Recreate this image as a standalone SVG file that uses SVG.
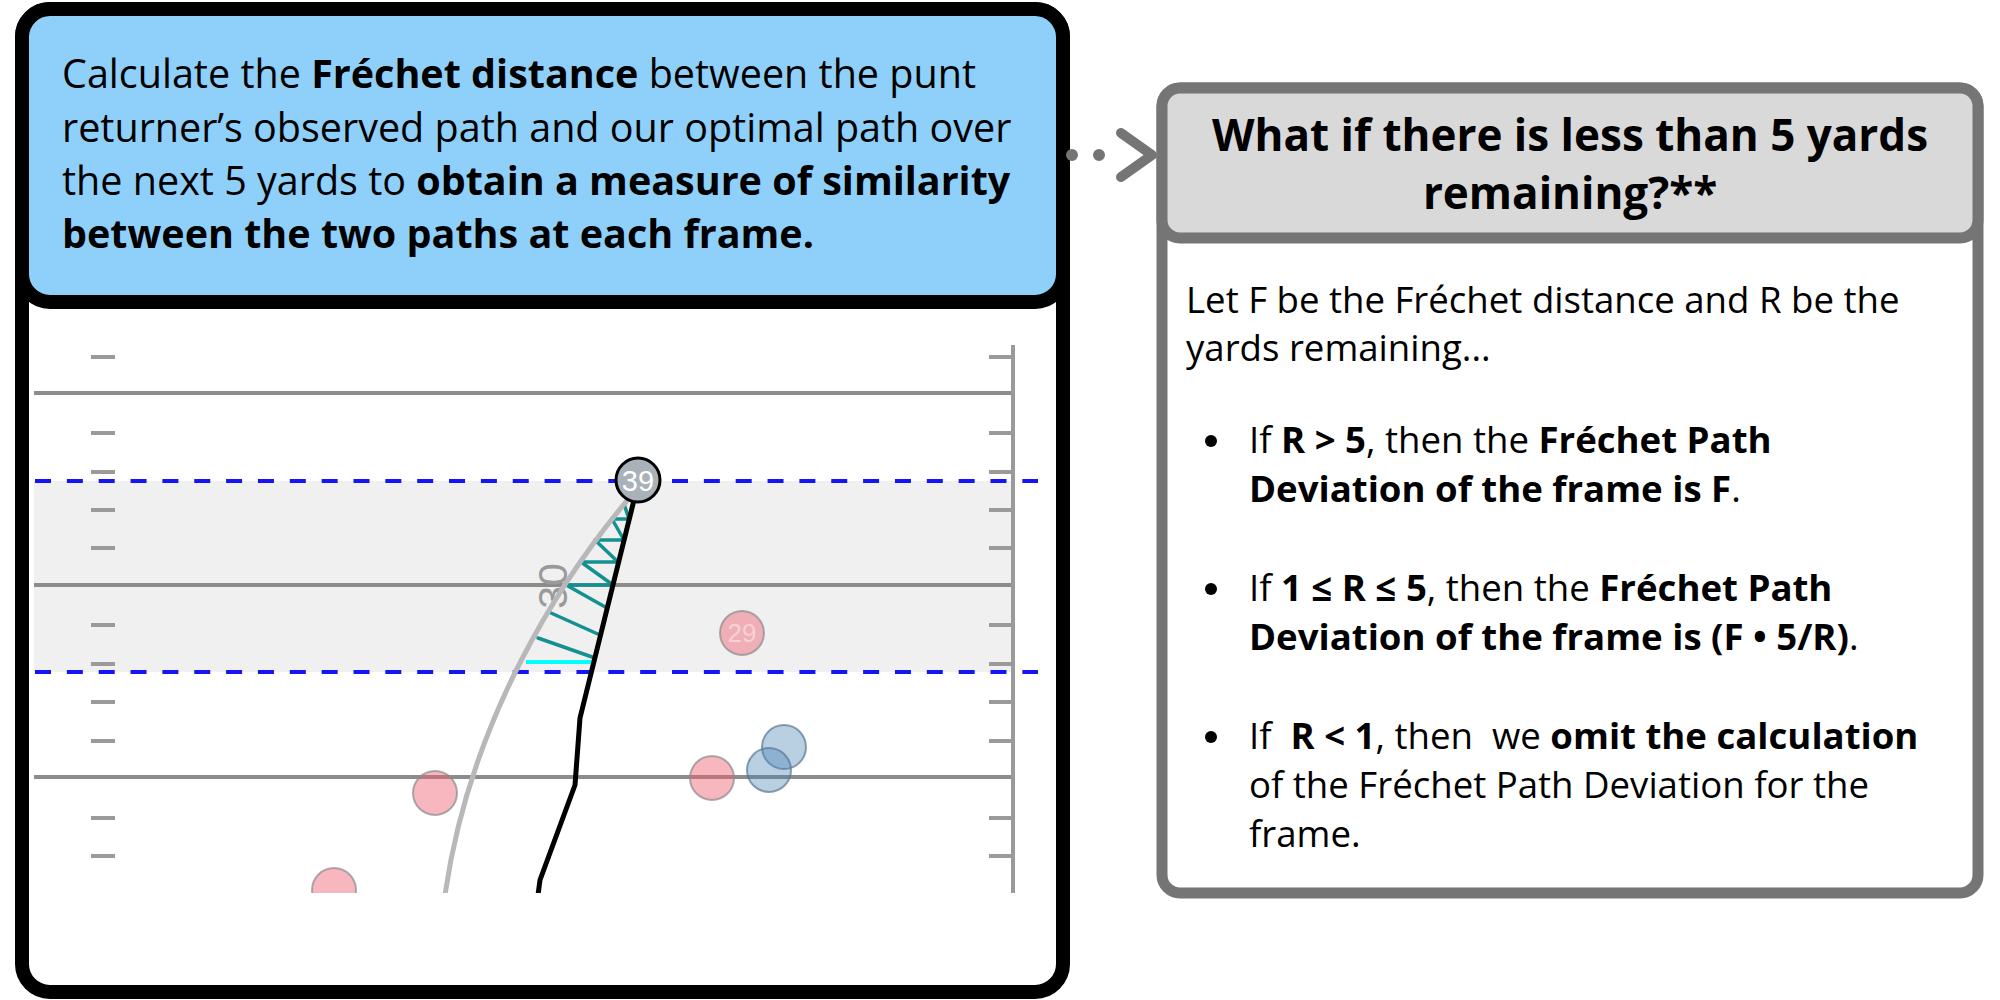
<svg xmlns="http://www.w3.org/2000/svg" width="2000" height="1000" viewBox="0 0 2000 1000">
<style>
.t{font-family:"Open Sans","Noto Sans","Liberation Sans",sans-serif;fill:#000}
.b{font-weight:700}
.lt{font-size:39.5px}
.rh{font-size:44px;font-weight:700}
.rb{font-size:36.6px}
.yard{stroke:#8c8c8c;stroke-width:4}
.tick{stroke:#9a9a9a;stroke-width:4}
.blue{stroke:#1414f5;stroke-width:4;stroke-dasharray:16 15.85;fill:none}
.teal{stroke:#139090;stroke-width:3.5;stroke-linecap:round}
.red{fill:#f06070;fill-opacity:0.45;stroke:#8a8a8a;stroke-opacity:0.7;stroke-width:2}
.bl{fill:#4682b4;fill-opacity:0.38;stroke:#5a7896;stroke-opacity:0.7;stroke-width:2}
</style>
<defs>
<clipPath id="fieldclip"><rect x="29" y="330" width="1027" height="563"/></clipPath>
</defs>
<rect width="2000" height="1000" fill="#fff"/>

<g id="box-left">
<rect x="22" y="9" width="1041" height="983" rx="28" fill="#fff" stroke="#000" stroke-width="14"/>
<rect x="22" y="9" width="1041" height="293" rx="28" fill="#8fd0fa" stroke="#000" stroke-width="14"/>
<text class="t lt" x="62" y="88">Calculate the <tspan class="b">Fréchet distance</tspan> between the punt</text>
<text class="t lt" x="62" y="142">returner’s observed path and our optimal path over</text>
<text class="t lt" x="62" y="195">the next 5 yards to <tspan class="b">obtain a measure of similarity</tspan></text>
<text class="t lt b" x="62" y="248">between the two paths at each frame.</text>

<g id="field" clip-path="url(#fieldclip)">
<rect x="34" y="481" width="979" height="191" fill="#f0f0f0"/>
<g class="yard">
<line x1="34" y1="393" x2="1013" y2="393"/>
<line x1="34" y1="585" x2="1013" y2="585"/>
<line x1="34" y1="777" x2="1013" y2="777"/>
</g>
<g class="tick">
<line x1="91" y1="357" x2="115" y2="357"/><line x1="989" y1="357" x2="1013" y2="357"/>
<line x1="91" y1="433" x2="115" y2="433"/><line x1="989" y1="433" x2="1013" y2="433"/>
<line x1="91" y1="472" x2="115" y2="472"/><line x1="989" y1="472" x2="1013" y2="472"/>
<line x1="91" y1="510" x2="115" y2="510"/><line x1="989" y1="510" x2="1013" y2="510"/>
<line x1="91" y1="548" x2="115" y2="548"/><line x1="989" y1="548" x2="1013" y2="548"/>
<line x1="91" y1="625" x2="115" y2="625"/><line x1="989" y1="625" x2="1013" y2="625"/>
<line x1="91" y1="664" x2="115" y2="664"/><line x1="989" y1="664" x2="1013" y2="664"/>
<line x1="91" y1="702" x2="115" y2="702"/><line x1="989" y1="702" x2="1013" y2="702"/>
<line x1="91" y1="741" x2="115" y2="741"/><line x1="989" y1="741" x2="1013" y2="741"/>
<line x1="91" y1="818" x2="115" y2="818"/><line x1="989" y1="818" x2="1013" y2="818"/>
<line x1="91" y1="856" x2="115" y2="856"/><line x1="989" y1="856" x2="1013" y2="856"/>
<line x1="1013" y1="345" x2="1013" y2="893"/>
</g>
<text transform="translate(567,586) rotate(-90)" text-anchor="middle" font-family="Liberation Sans, Arial, sans-serif" font-size="41" fill="#9a9a9a">30</text>
<line class="blue" x1="35" y1="481" x2="1038" y2="481"/>
<line class="blue" x1="35" y1="672" x2="1038" y2="672"/>
<g>
<line class="teal" x1="624" y1="504" x2="629" y2="519"/>
<line class="teal" x1="612" y1="519" x2="629" y2="519"/>
<line class="teal" x1="612" y1="519" x2="624" y2="540"/>
<line class="teal" x1="595" y1="540" x2="624" y2="540"/>
<line class="teal" x1="595" y1="540" x2="618" y2="562"/>
<line class="teal" x1="581" y1="562" x2="618" y2="562"/>
<line class="teal" x1="581" y1="562" x2="613" y2="585"/>
<line class="teal" x1="568" y1="585" x2="613" y2="585"/>
<line class="teal" x1="568" y1="586" x2="607" y2="608"/>
<line class="teal" x1="551" y1="613" x2="600" y2="635"/>
<line class="teal" x1="538" y1="638" x2="595" y2="658"/>
<line x1="526" y1="662" x2="595" y2="662" stroke="#00ffff" stroke-width="4"/>
</g>
<path d="M630,497 C560,580 470,720 445,895" fill="none" stroke="#b8b8b8" stroke-width="5"/>
<path d="M636,492 L580,718 L575,785 L540,880 L538,895" fill="none" stroke="#000" stroke-width="5" stroke-linejoin="round"/>
<circle class="red" cx="742" cy="633" r="22"/>
<text x="742" y="642" text-anchor="middle" font-family="Liberation Sans, Arial, sans-serif" font-size="26" fill="#fff" fill-opacity="0.45">29</text>
<circle class="red" cx="712" cy="778" r="22"/>
<circle class="red" cx="435" cy="793" r="22"/>
<circle class="red" cx="334" cy="890" r="22"/>
<circle class="bl" cx="784" cy="747" r="22"/>
<circle class="bl" cx="769" cy="770" r="22"/>
<circle cx="638" cy="480" r="22" fill="#a9b1b9" stroke="#000" stroke-width="3"/>
<text x="638" y="490.5" text-anchor="middle" font-family="Liberation Sans, Arial, sans-serif" font-size="29" fill="#fff">39</text>
</g>
</g>

<g id="box-right">
<rect x="1162" y="88" width="816" height="805" rx="18" fill="#fff" stroke="#757575" stroke-width="11"/>
<rect x="1162" y="88" width="816" height="150" rx="18" fill="#d9d9d9" stroke="#757575" stroke-width="11"/>
<text class="t rh" x="1570" y="151" text-anchor="middle">What if there is less than 5 yards</text>
<text class="t rh" x="1570" y="209" text-anchor="middle">remaining?**</text>
<text class="t rb" x="1186" y="313">Let F be the Fréchet distance and R be the</text>
<text class="t rb" x="1186" y="361">yards remaining...</text>
<circle cx="1211" cy="441" r="6" fill="#000"/>
<circle cx="1211" cy="589" r="6" fill="#000"/>
<circle cx="1211" cy="737" r="6" fill="#000"/>
<text class="t rb" x="1249" y="453">If <tspan class="b">R &gt; 5</tspan>, then the <tspan class="b">Fréchet Path</tspan></text>
<text class="t rb" x="1249" y="502"><tspan class="b">Deviation of the frame is F</tspan>.</text>
<text class="t rb" x="1249" y="601">If <tspan class="b">1 ≤ R ≤ 5</tspan>, then the <tspan class="b">Fréchet Path</tspan></text>
<text class="t rb" x="1249" y="650"><tspan class="b">Deviation of the frame is (F • 5/R)</tspan>.</text>
<text class="t rb" x="1249" y="749" xml:space="preserve">If  <tspan class="b">R &lt; 1</tspan>, then  we <tspan class="b">omit the calculation</tspan></text>
<text class="t rb" x="1249" y="798">of the Fréchet Path Deviation for the</text>
<text class="t rb" x="1249" y="847">frame.</text>
</g>

<g id="connectors">
<line x1="1072" y1="155" x2="1126" y2="155" stroke="#757575" stroke-width="12" stroke-linecap="round" stroke-dasharray="0 27"/>
<path d="M1121,133 L1152,155 L1121,177" fill="none" stroke="#757575" stroke-width="10" stroke-linecap="round" stroke-linejoin="round"/>
</g>
</svg>
